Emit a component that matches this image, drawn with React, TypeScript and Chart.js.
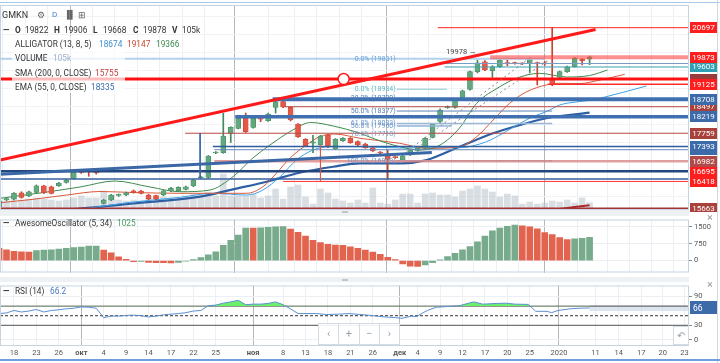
import React, { useEffect, useRef } from "react";
import { Chart, registerables } from "chart.js";

Chart.register(...registerables);

// ---------- DATA ----------
const FIRST_INDEX = -2;
const opens = [15705, 15910, 15928, 16103, 16012, 16114, 16298, 16270, 16298, 16393,
  16504, 16700, 16707, 16670, 15808, 15900, 16030, 16039, 16159, 16151,
  16039, 16020, 16039, 16151, 16159, 16198, 16290, 16520, 16532, 17210,
  17217, 17757, 17896, 18175, 17924, 18175, 18108, 18481, 18637, 18481,
  18016, 17590, 17480, 17431, 17710, 17320, 17551, 17618, 17525, 17460,
  17356, 17230, 17125, 17095, 17014, 17153, 17280, 17339, 17646, 18085,
  18470, 18481, 18684, 18982, 19472, 19750, 19500, 19611, 19720, 19715,
  19700, 19706, 19720, 19720, 19288, 19316, 19472, 19611, 19817, 19822];
const closes = [15872, 15925, 16087, 15975, 16131, 16298, 16103, 16087, 16365, 16457,
  16707, 16670, 16690, 16655, 15900, 16039, 16045, 16103, 16103, 16087,
  15928, 15928, 16159, 16230, 16254, 16270, 16457, 16540, 17125, 17225,
  17682, 17924, 18175, 17801, 18175, 18150, 18294, 18637, 18490, 18127,
  17662, 17412, 17520, 17682, 17384, 17590, 17618, 17495, 17431, 17356,
  17264, 17210, 17030, 17080, 17125, 17292, 17339, 17618, 18016, 18406,
  18490, 18684, 18943, 19472, 19722, 19519, 19611, 19798, 19700, 19695,
  19690, 19845, 19700, 19690, 19102, 19472, 19611, 19845, 19780, 19878];
const highs = [15900, 15950, 16110, 16130, 16150, 16320, 16310, 16290, 16390, 16480,
  16720, 16720, 16710, 16690, 15920, 16060, 16070, 16120, 16180, 16170,
  16060, 16040, 16170, 16250, 16270, 16290, 16470, 16560, 17140, 17250,
  18313, 17940, 18200, 18322, 18190, 18200, 18320, 18660, 18760, 18500,
  18030, 17610, 17700, 17700, 17730, 17610, 17640, 17640, 17550, 17480,
  17370, 17250, 17292, 17110, 17140, 17310, 17360, 17640, 18030, 18440,
  18520, 18700, 18960, 19490, 19798, 19780, 19640, 19820, 19800, 19740,
  19720, 19860, 19740, 19760, 20697, 19490, 19630, 19870, 19840, 19906];
const lows = [15680, 15880, 15900, 15950, 15990, 16100, 16080, 16070, 16280, 16370,
  16480, 16640, 16560, 16620, 15790, 15880, 16000, 16020, 16090, 16070,
  15910, 15900, 16020, 16130, 16140, 16180, 16270, 16500, 16510, 17190,
  17200, 17500, 17880, 17780, 17900, 18080, 18090, 18322, 18470, 18100,
  17640, 17390, 17217, 17410, 17360, 17300, 17530, 17480, 17410, 17340,
  17250, 17190, 16480, 17060, 17000, 17140, 17260, 17320, 17630, 18040,
  18450, 18460, 18670, 18960, 19440, 19500, 19316, 19590, 19640, 19680,
  19670, 19447, 19102, 19650, 19080, 19300, 19450, 19600, 19659, 19668];
const volumesK = [144, 130, 158, 144, 158, 173, 158, 144, 130, 144,
  173, 202, 173, 173, 274, 202, 144, 130, 144, 130,
  173, 158, 187, 173, 158, 202, 230, 202, 259, 202,
  518, 202, 202, 202, 230, 173, 202, 302, 158, 331,
  360, 187, 86, 302, 245, 158, 130, 101, 144, 101,
  317, 101, 86, 144, 230, 230, 101, 230, 245, 216,
  216, 187, 274, 302, 346, 302, 259, 187, 230, 202,
  86, 115, 86, 101, 130, 115, 144, 101, 173, 105];
const aoValues = [540, 475, 410, 385, 380, 445, 470, 475, 510, 540,
  575, 600, 640, 645, 470, 345, 165, 60, -50, -40,
  -80, -90, -95, -100, -80, -20, 40, 130, 255, 384,
  677, 896, 1127, 1440, 1435, 1445, 1473, 1500, 1505, 1400,
  1250, 1080, 900, 800, 720, 690, 680, 610, 540, 470,
  380, 280, 150, 40, -150, -250, -260, -190, -90, 30,
  180, 319, 480, 615, 831, 1088, 1319, 1435, 1520, 1577,
  1538, 1500, 1409, 1242, 1154, 1023, 935, 962, 985, 1025];

const rsiIdx = [-2, -1, 0, 1, 2, 3, 4, 5, 6, 7, 8, 9, 10, 11, 12, 13, 14, 15, 16, 17, 18, 19, 20,
  21, 22, 23, 24, 25, 26, 27, 28, 29, 30, 31, 32, 33, 34, 35, 36, 37, 38,
  40.5, 41.8, 43.6, 44.8, 47.3, 49.2, 51, 51.9, 53.2, 53.8, 55.3, 56.5, 58.4, 59.6,
  61.5, 62.7, 64.5, 65.8, 67, 68.8, 69.8, 71.3, 71.9, 72.8, 74.4, 75.6, 77];
const rsiVals = [54.5, 55.8, 61, 57.8, 59.8, 63, 57.8, 61, 62.4, 64.4, 65.7, 68.3, 67.7, 65.7, 46,
  49.3, 49.3, 50.6, 51.3, 50, 47.4, 49.3, 51.9, 53.3, 54.5, 56.4, 59.8, 61, 71, 72.2, 76.2,
  78.9, 82.1, 73, 74.2, 74.2, 75.6, 78.9, 73, 64.4, 54.5,
  54.5, 52.5, 53.3, 54.5, 51.3, 48, 46, 44.6, 49.3, 48, 61, 67.7, 69.7, 71,
  78.9, 74.2, 75.6, 76.2, 74.2, 73.6, 59.2, 59.2, 56.4, 61, 64.4, 65.7, 66.2];

const jawIdx = [2, 8.4, 15.1, 22.2, 26.6, 31.1, 33.3, 35.6, 37.8, 40, 42.3, 46.3, 51.6, 55.2, 59.6,
  63.2, 65.4, 67.7, 69.4, 71.2, 73, 75.2, 77, 78.4, 84.6];
const jawVals = [15480, 15622, 15825, 15975, 16087, 16039, 16178, 16549, 17014, 17292, 17384, 17384,
  17348, 17356, 17356, 17523, 17757, 18035, 18219, 18358, 18545, 18630, 18674, 18733, 19074];
const teethIdx = [-1.87, 2.54, 7.05, 11.5, 15.9, 22.2, 31.1, 33.3, 35.1, 36.9, 39.1, 40.9, 42.9, 46.3,
  51.6, 55.2, 59.6, 61.9, 64.1, 66.3, 68.6, 71.2, 73, 75.7, 78.4, 81.7];
const teethVals = [15825, 15919, 16039, 16137, 16109, 16087, 16087, 16270, 16643, 17061, 17431, 17662,
  17737, 17618, 17479, 17339, 17384, 17662, 18127, 18592, 18915, 19102, 19149, 19143, 19241, 19399];
const lipsIdx = [-1.87, 3.48, 8.83, 13.5, 18.2, 22.2, 26.2, 29.3, 31.96, 35.2, 37.3, 39.7, 42.7, 46.3,
  48, 51.6, 54.3, 57, 59.6, 61.9, 65, 67.2, 70.3, 73.9, 77, 79.4];
const lipsVals = [15947, 16095, 16262, 16429, 16262, 16131, 16178, 16549, 17069, 17570, 17849, 18058,
  17960, 17757, 17618, 17384, 17292, 17431, 17904, 18592, 19054, 19288, 19427, 19324, 19366, 19519];
const emaIdx = [2, 8.8, 15.9, 24.9, 29.3, 33.8, 38.2, 42.7, 46.3, 52, 55.2, 59.6, 64.1, 67.7, 71.2, 77];
const emaVals = [15560, 15663, 15803, 15992, 16198, 16410, 16660, 16827, 16921, 16921, 17014, 17384,
  17757, 17988, 18175, 18335];
const smaIdx = [70, 73, 77];
const smaVals = [15560, 15650, 15755];

const tickIdx = [0, 3, 6, 9.03, 12, 15, 18, 21, 24, 27, 32, 36, 39, 42, 45, 48, 51.6, 54, 57, 60, 63, 66,
  69, 72.9, 77.8, 80.9, 83.9, 86.8, 89.7];
const tickLabels = ["18", "23", "26", "окт", "4", "9", "14", "17", "22", "25", "ноя", "8", "13", "18", "21",
  "26", "дек", "4", "9", "12", "17", "20", "25", "2020", "11", "14", "17", "20", "23"];

// drawn annotation segments: [x1, price1, x2, price2]
const X_MIN = -1.87;
const X_MAX = 90.3;
const segments = [
  [X_MIN, 17014, 77.8, 20647],
  [X_MIN, 16615, 55.9, 17222],
  [52.3, 17208, 68.6, 19798],
  [53.9, 17348, 71.7, 19817],
  [24.9, 17765, 24.9, 16512],
  [41, 17431, 41, 16430],
  [56.7, 20697, X_MAX, 20697],
  [63.7, 19873, X_MAX, 19873],
  [X_MIN, 19831, 71, 19831],
  [57, 19700, X_MAX, 19700],
  [57.6, 19603, X_MAX, 19603],
  [X_MIN, 19268, X_MAX, 19268],
  [71.4, 19125, X_MAX, 19125],
  [51.2, 18984, 57.9, 18984],
  [34.6, 18708, X_MAX, 18708],
  [36.2, 18497, X_MAX, 18497],
  [51.2, 18377, 72, 18377],
  [29.6, 18219, X_MAX, 18219],
  [51.2, 18033, 72, 18033],
  [51.2, 17960, 58.5, 17960],
  [22.9, 17759, X_MAX, 17759],
  [26.6, 17393, X_MAX, 17393],
  [26.8, 17300, X_MAX, 17300],
  [26.8, 16982, X_MAX, 16982],
  [51.2, 16993, 72, 16993],
  [X_MIN, 16700, X_MAX, 16700],
  [X_MIN, 16485, X_MAX, 16485],
  [36, 16418, X_MAX, 16418],
  [X_MIN, 15663, X_MAX, 15663],
];
const segColors = ["#ff1a1a", "#3a67a6", "#8a8a8a", "#8a8a8a", "#3a67a6", "#e0533f", "#ff2020",
  "rgba(255,70,70,0.6)", "#b3d0ec", "#7c9cc8", "#3aa0b4", "#ff1010", "#ff2a2a", "#86c9d4", "#4070b0",
  "#b84a44", "#5b84b6", "#4070b0", "#9bb7d6", "#8fb3d9", "#b84a44", "#2f5ea0", "#6688bb",
  "rgba(215,120,120,0.7)", "#a9c2de", "#24467e", "#3a62a0", "#ff3030", "#a83232"];
const segWidths = [3, 3, 1, 1, 1, 1, 1, 4, 2, 1, 1, 3, 1.5, 1, 4, 1, 1, 3.5, 1.5, 1.5, 1, 1.5, 1, 2.5, 1.5,
  2.5, 1.5, 1, 2];
const segDashed = [2, 3];

const fibTexts = ["0.0% (19831)", "0.0% (18984)", "38.2% (18720)", "50.0% (18377)", "61.8% (18033)",
  "56.8% (17960)", "78.6% (17718)", "100.0% (16993)"];
const fibPrices = [19831, 18984, 18720, 18377, 18033, 17960, 17718, 16993];
const fibColors = ["#6ba3d8", "#5fb7c4", "#4f7fb8", "#4f7fb8", "#6a96c8", "#6a96c8", "#7a9ccc", "#6a96c8"];

const tagPrices = [19268, 18497, 17300, 16695, 19603, 20697, 19873, 19125, 18708, 18219, 17759, 17393,
  16982, 16418, 15663];
const tagHidden = new Set([19268, 17300]);
const tagColors = ["#9b3a3a", "#a8403c", "#3d6aa8", "#ff1e1e", "#2f9fb3", "#ff1e1e", "#ff1e1e", "#ff1e1e",
  "#3d6aa8", "#3d6aa8", "#a8403c", "#3d6aa8", "#b04a48", "#ff1e1e", "#a8403c"];

const circleAt = [44.1, 19268];
const highNote = { x: 57.8, y: 20006, text: "19978 \u2192" };

// ---------- STYLE ----------
const UP = "#62a77d";
const UP_B = "#3f8a5e";
const DOWN = "#e4584a";
const DOWN_B = "#c8432f";
const AO_UP = "#78aa8c";
const AO_DOWN = "#e2644f";
const FONT = "Roboto, 'Open Sans', sans-serif";
const monthSet = new Set(["окт", "ноя", "дек"]);
const sepSet = new Set(["окт", "ноя", "дек", "2020"]);

function xScale(showLabels: boolean): any {
  return {
    type: "linear",
    min: X_MIN,
    max: X_MAX,
    offset: false,
    afterBuildTicks: (s: any) => {
      s.ticks = tickIdx.map((v) => ({ value: v }));
    },
    afterFit: (s: any) => {
      s.height = showLabels ? 14 : 0;
    },
    ticks: {
      display: showLabels,
      autoSkip: false,
      maxRotation: 0,
      minRotation: 0,
      padding: 3,
      color: "#555",
      font: (ctx: any) => ({
        family: FONT,
        size: 7.5,
        weight: monthSet.has(tickLabels[ctx.index]) ? "bold" : "normal",
      }),
      callback: (_v: any, i: number) => tickLabels[i],
    },
    grid: {
      drawTicks: false,
      color: (ctx: any) => (sepSet.has(tickLabels[ctx.index]) ? "#b4b8bd" : "#eceff3"),
      lineWidth: 1,
    },
    border: { display: false },
  };
}

const borderPlugin = {
  id: "panelBorder",
  afterDraw(chart: any) {
    const { ctx, chartArea: a } = chart;
    ctx.save();
    ctx.strokeStyle = "#c6d3e0";
    ctx.lineWidth = 1;
    ctx.strokeRect(a.left + 0.5, a.top + 0.5, a.right - a.left - 1, a.bottom - a.top - 1);
    ctx.restore();
  },
};

const mainPlugin = {
  id: "mainDecor",
  afterDatasetsDraw(chart: any) {
    const { ctx, scales } = chart;
    const xs = scales.x;
    const ys = scales.y;
    ctx.save();
    ctx.font = `7px ${FONT}`;
    ctx.textAlign = "right";
    ctx.textBaseline = "middle";
    const fx = xs.getPixelForValue(51.2) - 1;
    fibTexts.forEach((t, k) => {
      ctx.fillStyle = fibColors[k];
      ctx.fillText(t, fx, ys.getPixelForValue(fibPrices[k]));
    });
    ctx.font = `7.5px ${FONT}`;
    ctx.textAlign = "left";
    ctx.fillStyle = "#444";
    ctx.fillText(highNote.text, xs.getPixelForValue(highNote.x), ys.getPixelForValue(highNote.y));
    ctx.beginPath();
    ctx.arc(xs.getPixelForValue(circleAt[0]), ys.getPixelForValue(circleAt[1]), 5.5, 0, Math.PI * 2);
    ctx.fillStyle = "#fff";
    ctx.fill();
    ctx.lineWidth = 1.5;
    ctx.strokeStyle = "#ff1a1a";
    ctx.stroke();
    ctx.restore();
  },
  afterDraw(chart: any) {
    const { ctx, scales, chartArea } = chart;
    const ys = scales.y;
    ctx.save();
    ctx.font = `8px ${FONT}`;
    ctx.textAlign = "center";
    ctx.textBaseline = "middle";
    tagPrices.forEach((p, k) => {
      const y = ys.getPixelForValue(p);
      ctx.fillStyle = tagColors[k];
      ctx.fillRect(chartArea.right + 1, Math.round(y - 5.5), 27, 11);
      if (!tagHidden.has(p)) {
        ctx.fillStyle = "#fff";
        ctx.fillText(String(p), chartArea.right + 14.5, y + 0.5);
      }
    });
    ctx.restore();
  },
};

const rsiPlugin = {
  id: "rsiDecor",
  beforeDatasetsDraw(chart: any) {
    const { ctx, scales, chartArea } = chart;
    const xs = scales.x;
    const ys = scales.y;
    ctx.save();
    const lastX = xs.getPixelForValue(rsiIdx[rsiIdx.length - 1]);
    const yv = ys.getPixelForValue(rsiVals[rsiVals.length - 1]);
    ctx.fillStyle = "rgba(205,218,232,0.7)";
    ctx.fillRect(lastX, yv - 3, chartArea.right - lastX, 6);
    ctx.restore();
  },
  afterDraw(chart: any) {
    const { ctx, scales, chartArea } = chart;
    const ys = scales.y;
    const v = rsiVals[rsiVals.length - 1];
    const y = ys.getPixelForValue(v);
    ctx.save();
    ctx.fillStyle = "#3d6aa8";
    ctx.fillRect(chartArea.right + 1, Math.round(y - 6.5), 27, 13);
    ctx.fillStyle = "#fff";
    ctx.font = `8.5px ${FONT}`;
    ctx.textAlign = "left";
    ctx.textBaseline = "middle";
    ctx.fillText(String(Math.round(v)), chartArea.right + 4, y + 0.5);
    ctx.restore();
  },
};

function baseOptions(extra: any): any {
  return {
    responsive: false,
    animation: false,
    devicePixelRatio: 1,
    events: [],
    plugins: { legend: { display: false }, tooltip: { enabled: false } },
    ...extra,
  };
}

function pts(ix: number[], vals: number[]) {
  return ix.map((x, k) => ({ x, y: vals[k] }));
}

export default function App() {
  const mainRef = useRef<HTMLCanvasElement>(null);
  const aoRef = useRef<HTMLCanvasElement>(null);
  const rsiRef = useRef<HTMLCanvasElement>(null);

  useEffect(() => {
    const xsIdx = opens.map((_, k) => FIRST_INDEX + k);
    const up = opens.map((o, k) => closes[k] >= o);

    const segDatasets = segments.map((s, k) => ({
      type: "line",
      data: [
        { x: s[0], y: s[1] },
        { x: s[2], y: s[3] },
      ],
      borderColor: segColors[k],
      borderWidth: segWidths[k],
      borderDash: k === 2 || k === 3 ? segDashed : [],
      pointRadius: 0,
      tension: 0,
      order: 2,
    }));

    const main = new Chart(mainRef.current!, {
      type: "bar",
      data: {
        datasets: [
          {
            type: "bar",
            yAxisID: "yv",
            data: xsIdx.map((x, k) => ({ x, y: volumesK[k] })),
            backgroundColor: "rgba(185,194,204,0.55)",
            barThickness: 6,
            grouped: false,
            order: 20,
          },
          {
            type: "line",
            data: pts(smaIdx, smaVals),
            borderColor: "#a82a2a",
            borderWidth: 2,
            pointRadius: 0,
            tension: 0.3,
            order: 15,
          },
          {
            type: "line",
            data: pts(emaIdx, emaVals),
            borderColor: "#2f5fa3",
            borderWidth: 2.2,
            pointRadius: 0,
            cubicInterpolationMode: "monotone",
            order: 14,
          },
          {
            type: "line",
            data: pts(jawIdx, jawVals),
            borderColor: "#3ea2e6",
            borderWidth: 1,
            pointRadius: 0,
            cubicInterpolationMode: "monotone",
            order: 13,
          },
          {
            type: "line",
            data: pts(teethIdx, teethVals),
            borderColor: "#d9583a",
            borderWidth: 1,
            pointRadius: 0,
            cubicInterpolationMode: "monotone",
            order: 12,
          },
          {
            type: "line",
            data: pts(lipsIdx, lipsVals),
            borderColor: "#3f8a4f",
            borderWidth: 1,
            pointRadius: 0,
            cubicInterpolationMode: "monotone",
            order: 11,
          },
          {
            type: "bar",
            data: xsIdx.map((x, k) => ({ x, y: [lows[k], highs[k]] })),
            backgroundColor: up.map((u) => (u ? UP_B : DOWN_B)),
            barThickness: 1,
            grouped: false,
            order: 6,
          },
          {
            type: "bar",
            data: xsIdx.map((x, k) => ({ x, y: [opens[k], closes[k]] })),
            backgroundColor: up.map((u) => (u ? UP : DOWN)),
            borderColor: up.map((u) => (u ? UP_B : DOWN_B)),
            borderWidth: 0.6,
            borderSkipped: false,
            barThickness: 5,
            minBarLength: 1,
            grouped: false,
            order: 5,
          },
          ...segDatasets,
        ] as any,
      },
      options: baseOptions({
        layout: { padding: { top: 5, bottom: 2, left: 0, right: 0 } },
        scales: {
          x: xScale(false),
          y: {
            position: "right",
            min: 15622,
            max: 21329,
            afterFit: (s: any) => {
              s.width = 31;
            },
            afterBuildTicks: (s: any) => {
              const t = [];
              for (let v = 16000; v <= 21000; v += 500) t.push({ value: v });
              s.ticks = t;
            },
            ticks: { display: false },
            grid: { color: "#f0f2f5", drawTicks: false },
            border: { display: false },
          },
          yv: {
            display: false,
            min: 0,
            max: 2950,
          },
        },
      }),
      plugins: [mainPlugin, borderPlugin],
    } as any);

    const aoColors = aoValues.map((v, k) => (k > 0 && v >= aoValues[k - 1] ? AO_UP : AO_DOWN));
    const ao = new Chart(aoRef.current!, {
      type: "bar",
      data: {
        datasets: [
          {
            data: xsIdx.map((x, k) => ({ x, y: aoValues[k] })),
            backgroundColor: aoColors,
            barThickness: 6,
            grouped: false,
          },
        ],
      },
      options: baseOptions({
        layout: { padding: { top: 3, bottom: 2, left: 0, right: 0 } },
        scales: {
          x: xScale(false),
          y: {
            position: "right",
            min: -527,
            max: 1819,
            afterFit: (s: any) => {
              s.width = 31;
            },
            afterBuildTicks: (s: any) => {
              s.ticks = [0, 750, 1500].map((v) => ({ value: v }));
            },
            ticks: {
              color: "#555",
              font: { family: FONT, size: 7.5 },
              padding: 2,
              callback: (v: any) => String(v),
            },
            grid: { color: "#eceff3", tickLength: 3, tickColor: "#888" },
            border: { display: false },
          },
        },
      }),
      plugins: [borderPlugin],
    } as any);

    const rsiLines = [70, 30, 50].map((v, k) => ({
      type: "line",
      data: [
        { x: X_MIN, y: v },
        { x: X_MAX, y: v },
      ],
      borderColor: k === 2 ? "#333" : "#555",
      borderWidth: 1,
      borderDash: k === 2 ? [3, 2] : [],
      pointRadius: 0,
      order: 5,
    }));
    const rsi = new Chart(rsiRef.current!, {
      type: "line",
      data: {
        datasets: [
          {
            data: pts(rsiIdx, rsiVals),
            borderColor: "#5b8fd2",
            borderWidth: 1,
            pointRadius: 0,
            tension: 0,
            fill: { target: { value: 70 }, above: "#6cf06c", below: "rgba(0,0,0,0)" },
            order: 1,
          },
          ...rsiLines,
        ] as any,
      },
      options: baseOptions({
        layout: { padding: { top: 3, bottom: 3, left: 0, right: 0 } },
        scales: {
          x: xScale(true),
          y: {
            position: "right",
            min: -13.2,
            max: 113.1,
            afterFit: (s: any) => {
              s.width = 31;
            },
            afterBuildTicks: (s: any) => {
              s.ticks = [0, 30, 90].map((v) => ({ value: v }));
            },
            ticks: {
              color: "#555",
              font: { family: FONT, size: 7.5 },
              padding: 2,
              callback: (v: any) => String(v),
            },
            grid: { color: "#eceff3", tickLength: 3, tickColor: "#888" },
            border: { display: false },
          },
        },
      }),
      plugins: [rsiPlugin, borderPlugin],
    } as any);

    return () => {
      main.destroy();
      ao.destroy();
      rsi.destroy();
    };
  }, []);

  const txt: React.CSSProperties = {
    position: "absolute",
    fontFamily: FONT,
    fontSize: 8.3,
    color: "#333",
    whiteSpace: "nowrap",
    lineHeight: "10px",
  };
  const at = (x: number, y: number, extra: React.CSSProperties = {}) => ({
    ...txt,
    left: x,
    top: y - 5,
    ...extra,
  });
  const bold = { fontWeight: 700 as const };

  return (
    <div
      style={{
        position: "fixed",
        left: 0,
        top: 0,
        width: 720,
        height: 363,
        background: "#fff",
        overflow: "hidden",
      }}
    >
      <div style={{ position: "absolute", left: 0, top: 2, width: 720, height: 1, background: "#a9c9ea" }} />
      <div style={{ position: "absolute", left: 0, top: 210, width: 689, height: 6, background: "#eef1f4" }} />
      <div style={{ position: "absolute", left: 0, top: 277, width: 689, height: 5, background: "#eef1f4" }} />
      <canvas ref={mainRef} width={720} height={212} style={{ position: "absolute", left: 0, top: 0 }} />
      <canvas ref={aoRef} width={720} height={66} style={{ position: "absolute", left: 0, top: 213 }} />
      <canvas ref={rsiRef} width={720} height={84} style={{ position: "absolute", left: 0, top: 279 }} />
      <div style={{ position: "absolute", left: 717, top: 0, width: 1, height: 363, background: "#d0d8e0" }} />
      <div style={{ position: "absolute", left: 0, top: 359, width: 720, height: 2, background: "#6f9fd8" }} />
      <div style={{ position: "absolute", left: 342, top: 211, width: 6, height: 2, background: "#c0c6cc" }} />
      <div style={{ position: "absolute", left: 342, top: 279, width: 6, height: 2, background: "#c0c6cc" }} />

      <div
        style={{
          position: "absolute",
          left: 12,
          top: 36,
          width: 113,
          height: 57,
          background: "rgba(255,255,255,0.72)",
        }}
      />
      <span style={at(2, 15, { fontSize: 9 })}>GMKN</span>
      <span style={at(37, 15, { fontSize: 9, color: "#666" })}>{"\u2699"}</span>
      <span style={at(52, 15, { fontSize: 8, color: "#3b7fd0" })}>D</span>
      <span style={at(64, 15, { fontSize: 8, color: "#666" })}>{"\u2590\u258C"}</span>
      <span style={at(78, 15, { fontSize: 9, color: "#666" })}>{"\u229E"}</span>

      <span style={at(3, 29.5, bold)}>{"\u2014"}</span>
      <span style={at(15, 29.5, bold)}>O</span>
      <span style={at(25, 29.5)}>19822</span>
      <span style={at(54, 29.5, bold)}>H</span>
      <span style={at(64, 29.5)}>19906</span>
      <span style={at(93, 29.5, bold)}>L</span>
      <span style={at(103, 29.5)}>19668</span>
      <span style={at(133, 29.5, bold)}>C</span>
      <span style={at(143, 29.5)}>19878</span>
      <span style={at(172, 29.5, bold)}>V</span>
      <span style={at(182, 29.5)}>105k</span>

      <span style={at(15, 43.7)}>ALLIGATOR (13, 8, 5)</span>
      <span style={at(99, 43.7, { color: "#3b8fd0" })}>18674</span>
      <span style={at(127, 43.7, { color: "#c9452f" })}>19147</span>
      <span style={at(156, 43.7, { color: "#3c8c50" })}>19366</span>

      <span style={at(15, 58)}>VOLUME</span>
      <span style={at(53, 58, { color: "#9fb2c8" })}>105k</span>

      <span style={at(15, 72.7)}>SMA (200, 0, CLOSE)</span>
      <span style={at(95, 72.7, { color: "#c63f3f" })}>15755</span>

      <span style={at(15, 87.3)}>EMA (55, 0, CLOSE)</span>
      <span style={at(91, 87.3, { color: "#3a6aa8" })}>18335</span>

      <span style={at(3, 222.7, bold)}>{"\u2014"}</span>
      <span style={at(15, 222.7)}>AwesomeOscillator (5, 34)</span>
      <span style={at(117, 222.7, { color: "#4a9a64" })}>1025</span>
      <span style={at(707, 218, { fontSize: 11, color: "#999" })}>{"\u00D7"}</span>

      <span style={at(3, 290.7, bold)}>{"\u2014"}</span>
      <span style={at(15, 290.7)}>RSI (14)</span>
      <span style={at(50, 290.7, { color: "#4a7ac0" })}>66.2</span>
      <span style={at(707, 285, { fontSize: 11, color: "#999" })}>{"\u00D7"}</span>

      <div
        style={{
          position: "absolute",
          left: 318,
          top: 323,
          width: 82,
          height: 22,
          border: "1px solid #d5dbe2",
          background: "rgba(255,255,255,0.9)",
          display: "flex",
          boxSizing: "border-box",
        }}
      >
        {["\u2039", "+", "\u2212", "\u203A"].map((g, k) => (
          <div
            key={k}
            style={{
              flex: 1,
              borderLeft: k ? "1px solid #d5dbe2" : "none",
              color: "#9aa3ad",
              fontFamily: FONT,
              fontSize: 11,
              textAlign: "center",
              lineHeight: "20px",
            }}
          >
            {g}
          </div>
        ))}
      </div>
      <div
        style={{
          position: "absolute",
          left: 673,
          top: 326,
          width: 16,
          height: 19,
          border: "1px solid #d5dbe2",
          boxSizing: "border-box",
          background: "#fff",
          color: "#9aa3ad",
          fontSize: 10,
          textAlign: "center",
          lineHeight: "17px",
          fontFamily: FONT,
        }}
      >
        {"\u21B6"}
      </div>
    </div>
  );
}
